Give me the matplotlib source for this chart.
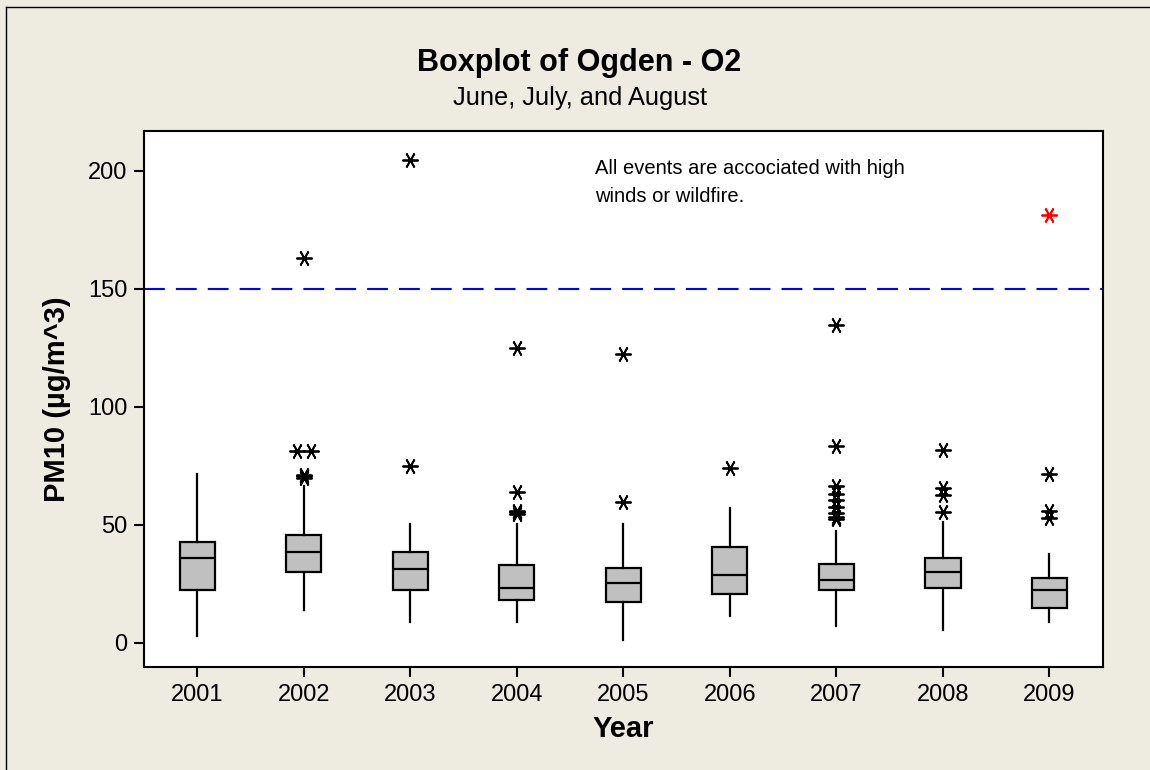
import numpy as np
import matplotlib
matplotlib.use('Agg')
import matplotlib.pyplot as plt
from matplotlib.lines import Line2D

plt.rcParams['font.family'] = ['Liberation Sans', 'DejaVu Sans']

# PM10 summary per year
years = ['2001', '2002', '2003', '2004', '2005', '2006', '2007', '2008', '2009']
whis_lo = [3.0, 13.8, 8.9, 8.9, 1.1, 11.3, 7.0, 5.3, 8.9]
q1 = [22.4, 30.0, 22.4, 18.2, 17.3, 20.7, 22.3, 23.3, 14.8]
med = [36.1, 38.7, 31.1, 23.4, 25.3, 28.6, 26.8, 30.0, 22.6]
q3 = [42.8, 45.5, 38.5, 32.8, 31.9, 40.5, 33.6, 36.1, 27.5]
whis_hi = [71.7, 66.5, 50.5, 50.5, 50.5, 57.3, 47.5, 51.0, 37.8]
outliers = [
    [],
    [162.8, 81.3, 81.3, 71.3, 70.6, 70.0],
    [204.3, 74.8],
    [124.7, 63.9, 56.0, 55.3, 54.6],
    [122.2, 59.5],
    [73.9],
    [134.5, 83.4, 66.4, 63.2, 60.4, 57.5, 54.8, 53.3, 52.4],
    [81.6, 65.4, 62.5, 55.5],
    [71.7, 55.9, 53.0],
]
# flagged event (red)
event_years = ['2009']
event_values = [181.2]

standard = 150

stats = []
for i in range(len(years)):
    stats.append(dict(label=years[i], whislo=whis_lo[i], q1=q1[i], med=med[i],
                      q3=q3[i], whishi=whis_hi[i], fliers=[]))

fig, ax = plt.subplots(figsize=(11.5, 7.7), dpi=100)
fig.patch.set_facecolor('#EEEBE1')
fig.subplots_adjust(left=0.1252, right=0.9589, bottom=0.1338, top=0.8299)

pos = np.arange(1, len(years) + 1)
ax.bxp(stats, positions=pos, widths=0.33, patch_artist=True,
       showcaps=False, showfliers=False,
       boxprops=dict(facecolor='#C0C0C0', edgecolor='black', linewidth=1.6),
       medianprops=dict(color='black', linewidth=1.6),
       whiskerprops=dict(color='black', linewidth=1.6))

# outliers - tied values get spread sideways like minitab does
star = (6, 2, 90)
for i, vals in enumerate(outliers):
    if len(vals) == 0:
        continue
    uniq, counts = np.unique(vals, return_counts=True)
    for v, k in zip(uniq, counts):
        xs = pos[i] + (np.arange(k) - (k - 1) / 2) * 0.13
        ax.plot(xs, [v] * k, ls='none', marker=star, ms=11.5, mew=1.3, color='black')

for y, v in zip(event_years, event_values):
    ax.plot(pos[years.index(y)], v, ls='none', marker=star, ms=11.5, mew=1.3, color='red')

ax.axhline(standard, color='#0000FF', lw=1.5, dashes=(10, 5.3), zorder=1)

ax.text(4.73, 204.8, 'All events are accociated with high\nwinds or wildfire.',
        fontsize=14.5, ha='left', va='top', linespacing=1.6)

ax.set_xlim(0.5, 9.5)
ax.set_ylim(-10.2, 216.8)
ax.set_yticks([0, 50, 100, 150, 200])
ax.set_xticks(pos)
ax.set_xticklabels(years)
ax.tick_params(length=7, width=1.5, labelsize=17, pad=5)
for s in ax.spines.values():
    s.set_linewidth(1.5)

ax.set_xlabel('Year', fontsize=21, fontweight='bold', va='center')
ax.xaxis.set_label_coords(0.5, -0.1157)
ax.set_ylabel('PM10 (µg/m^3)', fontsize=21, fontweight='bold', va='center')
ax.yaxis.set_label_coords(-0.091, 0.5)

fig.text(0.504, 0.918, 'Boxplot of Ogden - O2', ha='center', va='center',
         fontsize=22, fontweight='bold')
fig.text(0.504, 0.873, 'June, July, and August', ha='center', va='center', fontsize=18.3)

# frame lines (left and top)
fig.add_artist(Line2D([0.0052, 0.0052], [0, 0.9909], transform=fig.transFigure, color='black', lw=1))
fig.add_artist(Line2D([0.0052, 1], [0.9909, 0.9909], transform=fig.transFigure, color='black', lw=1))

fig.savefig('out.png', dpi=100, facecolor=fig.get_facecolor())
